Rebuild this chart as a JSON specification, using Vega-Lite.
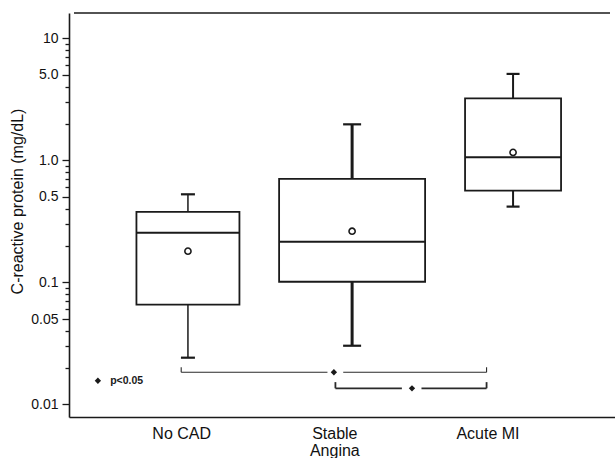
{
  "$schema": "https://vega.github.io/schema/vega-lite/v6.json",
  "autosize": {"type": "none"},
  "padding": {"left": 69, "top": 13, "right": 0, "bottom": 41},
  "width": 546,
  "height": 404,
  "view": {"stroke": "transparent", "strokeWidth": 0},
  "config": {
    "font": "Liberation Sans",
    "view": {"stroke": "transparent", "strokeWidth": 0},
    "axis": {"domainColor": "#1a1a1a", "domainWidth": 1.6, "grid": false, "labelColor": "#111", "titleColor": "#111", "tickColor": "#1a1a1a"},
    "axisRight": {"domain": false, "ticks": false, "labels": false, "titleOpacity": 0},
    "axisTop": {"domain": false, "ticks": false, "labels": false, "titleOpacity": 0}
  },
  "datasets": {
    "boxes": [
      {"group": "No CAD", "pos": 1.044, "lo": 0.0241, "q1": 0.0656, "median": 0.255, "q3": 0.377, "hi": 0.526, "mean": 0.180},
      {"group": "Stable Angina", "pos": 2.116, "lo": 0.0302, "q1": 0.101, "median": 0.215, "q3": 0.703, "hi": 1.97, "mean": 0.262},
      {"group": "Acute MI", "pos": 3.167, "lo": 0.417, "q1": 0.564, "median": 1.06, "q3": 3.22, "hi": 5.10, "mean": 1.16}
    ],
    "brackets": [
      {"pair": "No CAD vs Acute MI", "xa": 1.0, "xb": 1.955, "ya": 0.0183, "yb": 0.0183},
      {"pair": "No CAD vs Acute MI", "xa": 2.058, "xb": 2.994, "ya": 0.0183, "yb": 0.0183},
      {"pair": "No CAD vs Acute MI", "xa": 1.0, "xb": 1.0, "ya": 0.0183, "yb": 0.0201},
      {"pair": "No CAD vs Acute MI", "xa": 2.994, "xb": 2.994, "ya": 0.0183, "yb": 0.0201},
      {"pair": "Stable Angina vs Acute MI", "xa": 2.007, "xb": 2.441, "ya": 0.01352, "yb": 0.01352},
      {"pair": "Stable Angina vs Acute MI", "xa": 2.569, "xb": 2.994, "ya": 0.01352, "yb": 0.01352},
      {"pair": "Stable Angina vs Acute MI", "xa": 2.007, "xb": 2.007, "ya": 0.01352, "yb": 0.0152},
      {"pair": "Stable Angina vs Acute MI", "xa": 2.994, "xb": 2.994, "ya": 0.01352, "yb": 0.0152}
    ],
    "marks": [
      {"kind": "No CAD vs Acute MI", "x": 1.997, "y": 0.0183},
      {"kind": "Stable Angina vs Acute MI", "x": 2.507, "y": 0.01352},
      {"kind": "legend", "x": 0.456, "y": 0.0156}
    ],
    "notes": [
      {"label": "p<0.05", "x": 0.536, "y": 0.0156}
    ],
    "frame": [
      {"edge": "top", "xa": 0.3, "xb": 3.8, "y": 16.1}
    ]
  },
  "data": {"name": "boxes"},
  "encoding": {
    "x": {
      "field": "pos", "type": "quantitative",
      "scale": {"domain": [0.3, 3.8], "nice": false, "zero": false},
      "axis": {
        "values": [1, 2, 3],
        "labelExpr": "datum.value == 1 ? 'No CAD' : (datum.value == 2 ? ['Stable', 'Angina'] : 'Acute MI')",
        "ticks": false, "tickSize": 0, "labelPadding": 8, "labelFontSize": 16, "labelLineHeight": 17,
        "labelFlush": false, "labelOverlap": false, "title": null
      }
    }
  },
  "layer": [
    {
      "mark": {"type": "rule", "color": "#1a1a1a"},
      "encoding": {
        "y": {
          "field": "lo", "type": "quantitative",
          "scale": {"type": "log", "domain": [0.00787, 16.1], "nice": false},
          "axis": {
            "values": [0.01, 0.02, 0.03, 0.04, 0.05, 0.06, 0.07, 0.08, 0.09, 0.1, 0.2, 0.3, 0.4, 0.5, 0.6, 0.7, 0.8, 0.9, 1, 2, 3, 4, 5, 6, 7, 8, 9, 10],
            "labelExpr": "datum.value == 0.01 ? '0.01' : datum.value == 0.05 ? '0.05' : datum.value == 0.1 ? '0.1' : datum.value == 0.5 ? '0.5' : datum.value == 1 ? '1.0' : datum.value == 5 ? '5.0' : datum.value == 10 ? '10' : ''",
            "tickSize": {"condition": {"test": "indexof([0.01, 0.05, 0.1, 0.5, 1, 5, 10], datum.value) >= 0", "value": 7}, "value": 4},
            "tickWidth": 1.3,
            "labelPadding": 4, "labelFontSize": 14, "labelOverlap": false, "labelFlush": false,
            "title": "C-reactive protein (mg/dL)", "titleFontSize": 16, "titleFontWeight": "normal",
            "titleX": -44, "titleY": 188
          }
        },
        "y2": {"field": "q1"},
        "strokeWidth": {"field": "group", "type": "nominal", "scale": {"type": "ordinal", "domain": ["No CAD", "Stable Angina", "Acute MI"], "range": [1.5, 3, 2]}, "legend": null}
      }
    },
    {
      "mark": {"type": "rule", "color": "#1a1a1a"},
      "encoding": {
        "y": {"field": "q3", "type": "quantitative"},
        "y2": {"field": "hi"},
        "strokeWidth": {"field": "group", "type": "nominal", "scale": {"type": "ordinal", "domain": ["No CAD", "Stable Angina", "Acute MI"], "range": [1.5, 3, 2]}, "legend": null}
      }
    },
    {
      "mark": {"type": "tick", "orient": "horizontal", "color": "#1a1a1a", "thickness": 2.2, "opacity": 1},
      "encoding": {
        "y": {"field": "lo", "type": "quantitative"},
        "size": {"field": "group", "type": "nominal", "scale": {"type": "ordinal", "domain": ["No CAD", "Stable Angina", "Acute MI"], "range": [14, 18, 13]}, "legend": null}
      }
    },
    {
      "mark": {"type": "tick", "orient": "horizontal", "color": "#1a1a1a", "thickness": 2.2, "opacity": 1},
      "encoding": {
        "y": {"field": "hi", "type": "quantitative"},
        "size": {"field": "group", "type": "nominal", "scale": {"type": "ordinal", "domain": ["No CAD", "Stable Angina", "Acute MI"], "range": [14, 18, 13]}, "legend": null}
      }
    },
    {
      "mark": {"type": "bar", "fill": "white", "stroke": "#1a1a1a", "strokeWidth": 1.8},
      "encoding": {
        "y": {"field": "q1", "type": "quantitative"},
        "y2": {"field": "q3"},
        "size": {"field": "group", "type": "nominal", "scale": {"type": "ordinal", "domain": ["No CAD", "Stable Angina", "Acute MI"], "range": [103, 146, 96]}, "legend": null}
      }
    },
    {
      "mark": {"type": "tick", "orient": "horizontal", "color": "#1a1a1a", "thickness": 2, "opacity": 1},
      "encoding": {
        "y": {"field": "median", "type": "quantitative"},
        "size": {"field": "group", "type": "nominal", "scale": {"type": "ordinal", "domain": ["No CAD", "Stable Angina", "Acute MI"], "range": [103, 146, 96]}, "legend": null}
      }
    },
    {
      "mark": {"type": "point", "shape": "circle", "filled": false, "stroke": "#1a1a1a", "strokeWidth": 1.6, "size": 38, "opacity": 1},
      "encoding": {"y": {"field": "mean", "type": "quantitative"}}
    },
    {
      "data": {"name": "frame"},
      "mark": {"type": "rule", "color": "#1a1a1a", "strokeWidth": 1.6},
      "encoding": {
        "x": {"field": "xa", "type": "quantitative"},
        "x2": {"field": "xb"},
        "y": {"field": "y", "type": "quantitative"}
      }
    },
    {
      "data": {"name": "brackets"},
      "mark": {"type": "rule", "color": "#2a2a2a"},
      "encoding": {
        "x": {"field": "xa", "type": "quantitative"},
        "x2": {"field": "xb"},
        "y": {"field": "ya", "type": "quantitative"},
        "y2": {"field": "yb"},
        "strokeWidth": {"field": "pair", "type": "nominal", "scale": {"type": "ordinal", "domain": ["No CAD vs Acute MI", "Stable Angina vs Acute MI"], "range": [1.1, 1.8]}, "legend": null}
      }
    },
    {
      "data": {"name": "marks"},
      "mark": {"type": "point", "shape": "diamond", "filled": true, "color": "#1a1a1a", "size": 40, "opacity": 1},
      "encoding": {
        "x": {"field": "x", "type": "quantitative"},
        "y": {"field": "y", "type": "quantitative"}
      }
    },
    {
      "data": {"name": "notes"},
      "mark": {"type": "text", "align": "left", "baseline": "middle", "fontSize": 10.5, "fontWeight": "bold", "color": "#1a1a1a"},
      "encoding": {
        "x": {"field": "x", "type": "quantitative"},
        "y": {"field": "y", "type": "quantitative"},
        "text": {"field": "label"}
      }
    }
  ],
  "resolve": {"scale": {"size": "independent", "strokeWidth": "independent"}}
}
